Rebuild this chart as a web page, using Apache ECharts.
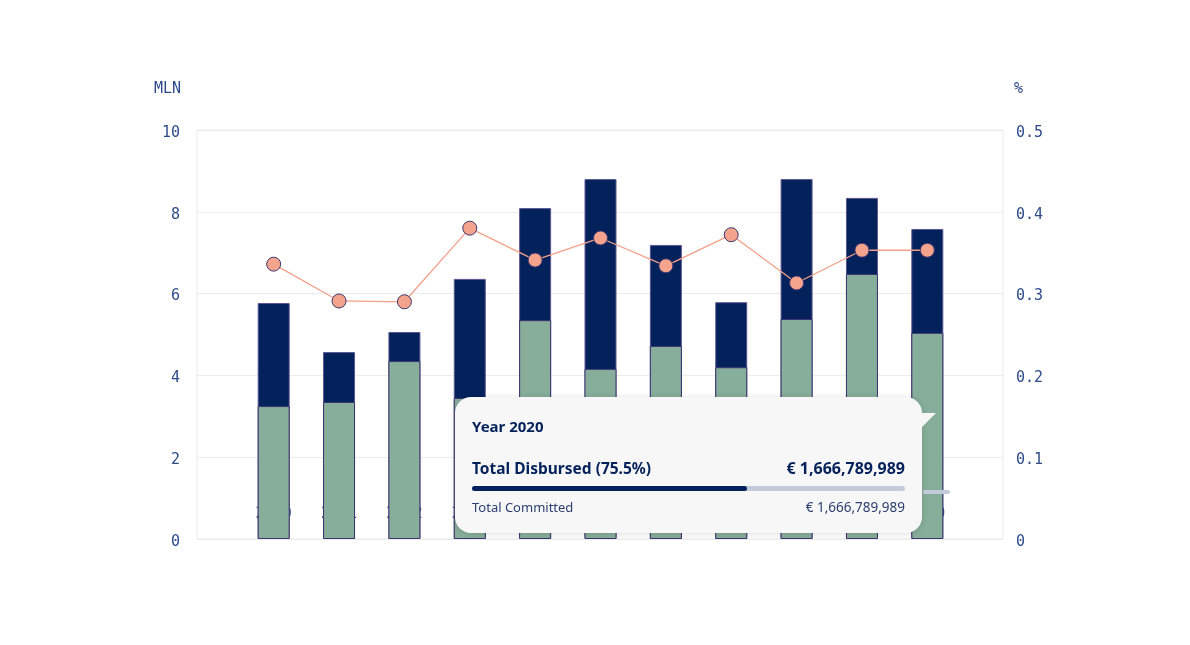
<!DOCTYPE html>
<html>
<head>
<meta charset="utf-8">
<script src="https://cdn.jsdelivr.net/npm/echarts@6/dist/echarts.min.js"></script>
<style>
  html, body { margin: 0; padding: 0; background: #fff; }
  #chart { width: 1190px; height: 645px; }
</style>
</head>
<body>
<div id="chart"></div>
<script>
// data
const years = ['2010', '2011', '2012', '2013', '2014', '2015', '2016', '2017', '2018', '2019', '2020'];
const committed = [5.77, 4.57, 5.06, 6.36, 8.09, 8.80, 7.19, 5.79, 8.80, 8.34, 7.58]; // MLN
const disbursed = [3.25, 3.35, 4.35, 3.45, 5.35, 4.16, 4.72, 4.20, 5.38, 6.48, 5.04]; // MLN
const rate = [0.336, 0.291, 0.290, 0.380, 0.341, 0.368, 0.334, 0.372, 0.313, 0.353, 0.353]; // %

// tooltip content shown for the last year
const tipTitle = 'Year 2020';
const tipLabels = ['Total Disbursed (75.5%)', 'Total Committed'];
const tipValues = ['€ 1,666,789,989', '€ 1,666,789,989'];

const chartDom = document.getElementById('chart');
const myChart = echarts.init(chartDom);

const axisFont = 'DejaVu Sans Mono';
const axisColor = '#2e4b8b';
const navy = '#03215b';

// tick labels sit a bit low in the reference, so push them down with rich padding
const tickRich = { t: { padding: [6, 0, 0, 0], color: axisColor, fontFamily: axisFont, fontSize: 15 } };
const tickFmt = v => '{t|' + v + '}';

function tipHtml() {
  return '<div style="position:relative;width:467px;height:136px;background:#f7f7f7;border-radius:16px;' +
    'box-shadow:0 1px 6px rgba(0,0,0,0.14);font-family:\'Noto Sans\',sans-serif;color:' + navy + ';">' +
    // little pointer at top right
    '<div style="position:absolute;left:467px;top:16px;width:0;height:0;border-top:14px solid #f7f7f7;border-right:14px solid transparent;"></div>' +
    '<div style="position:absolute;left:17px;top:20px;font-size:15px;font-weight:bold;line-height:18px;">' + tipTitle + '</div>' +
    '<div style="position:absolute;left:17px;top:61px;font-size:15.5px;font-weight:bold;line-height:20px;">' + tipLabels[0] + '</div>' +
    '<div style="position:absolute;right:17px;top:61px;font-size:16px;font-weight:bold;line-height:20px;">' + tipValues[0] + '</div>' +
    '<div style="position:absolute;left:17px;top:89px;width:433px;height:5px;border-radius:3px;background:#c3cad9;">' +
      '<div style="width:63.5%;height:5px;border-radius:3px;background:' + navy + ';"></div></div>' +
    '<div style="position:absolute;left:468px;top:93px;width:27px;height:4px;border-radius:2px;background:#c3cad9;"></div>' +
    '<div style="position:absolute;left:17px;top:102px;font-size:13px;line-height:16px;color:#2b3f70;">' + tipLabels[1] + '</div>' +
    '<div style="position:absolute;right:17px;top:102px;font-size:13.5px;line-height:16px;color:#2b3f70;">' + tipValues[1] + '</div>' +
    '</div>';
}

const option = {
  animation: false,
  // grid 0 carries the frame, split lines and the two y scales; grid 1 carries the marks
  grid: [
    { left: 197, right: 187, top: 130, bottom: 106, show: true, borderColor: '#e9e9e9', borderWidth: 1 },
    { left: 241, right: 230, top: 130, bottom: 106 }
  ],
  tooltip: {
    trigger: 'item',
    triggerOn: 'none',
    alwaysShowContent: true,
    transitionDuration: 0,
    padding: 0,
    borderWidth: 0,
    backgroundColor: 'transparent',
    extraCssText: 'box-shadow:none;',
    position: [455, 397],
    formatter: tipHtml
  },
  xAxis: [
    { gridIndex: 0, type: 'value', min: 0, max: 1, show: false },
    {
      gridIndex: 1,
      type: 'category',
      data: years,
      axisLine: { show: false },
      axisTick: { show: false },
      axisLabel: { margin: -32, color: '#2a3f85', fontFamily: axisFont, fontSize: 15 }
    }
  ],
  yAxis: [
    {
      gridIndex: 0, type: 'value', min: 0, max: 10, interval: 2, position: 'left',
      name: 'MLN', nameLocation: 'end', nameGap: 33,
      nameTextStyle: { color: axisColor, fontFamily: axisFont, fontSize: 15, align: 'right', padding: [0, 16, 0, 0] },
      axisLine: { show: false }, axisTick: { show: false },
      axisLabel: { margin: 17, formatter: tickFmt, rich: tickRich },
      splitLine: { lineStyle: { color: '#ececec' } }
    },
    {
      gridIndex: 0, type: 'value', min: 0, max: 0.5, interval: 0.1, position: 'right',
      name: '%', nameLocation: 'end', nameGap: 33,
      nameTextStyle: { color: axisColor, fontFamily: axisFont, fontSize: 15, align: 'left', padding: [0, 0, 0, 11] },
      axisLine: { show: false }, axisTick: { show: false },
      axisLabel: { margin: 13, formatter: tickFmt, rich: tickRich },
      splitLine: { show: false }
    },
    { gridIndex: 1, type: 'value', min: 0, max: 10, show: false },
    { gridIndex: 1, type: 'value', min: 0, max: 0.5, show: false }
  ],
  series: [
    {
      name: 'Total Committed',
      type: 'bar',
      xAxisIndex: 1, yAxisIndex: 2,
      barWidth: 32,
      barGap: '-100%',
      data: committed,
      itemStyle: { color: navy, borderColor: '#5a5690', borderWidth: 1 }
    },
    {
      name: 'Total Disbursed',
      type: 'bar',
      xAxisIndex: 1, yAxisIndex: 2,
      barWidth: 32,
      barGap: '-100%',
      data: disbursed,
      itemStyle: { color: '#87ae9a', borderColor: '#3c3570', borderWidth: 1 }
    },
    {
      name: 'Rate',
      type: 'line',
      xAxisIndex: 1, yAxisIndex: 3,
      data: rate,
      symbol: 'circle',
      symbolSize: 14,
      z: 5,
      lineStyle: { color: '#f3a088', width: 1.3 },
      itemStyle: { color: '#f4a48c', borderColor: '#3c3570', borderWidth: 1 }
    }
  ]
};

option && myChart.setOption(option);

myChart.dispatchAction({ type: 'showTip', seriesIndex: 0, dataIndex: 10 });
</script>
</body>
</html>
